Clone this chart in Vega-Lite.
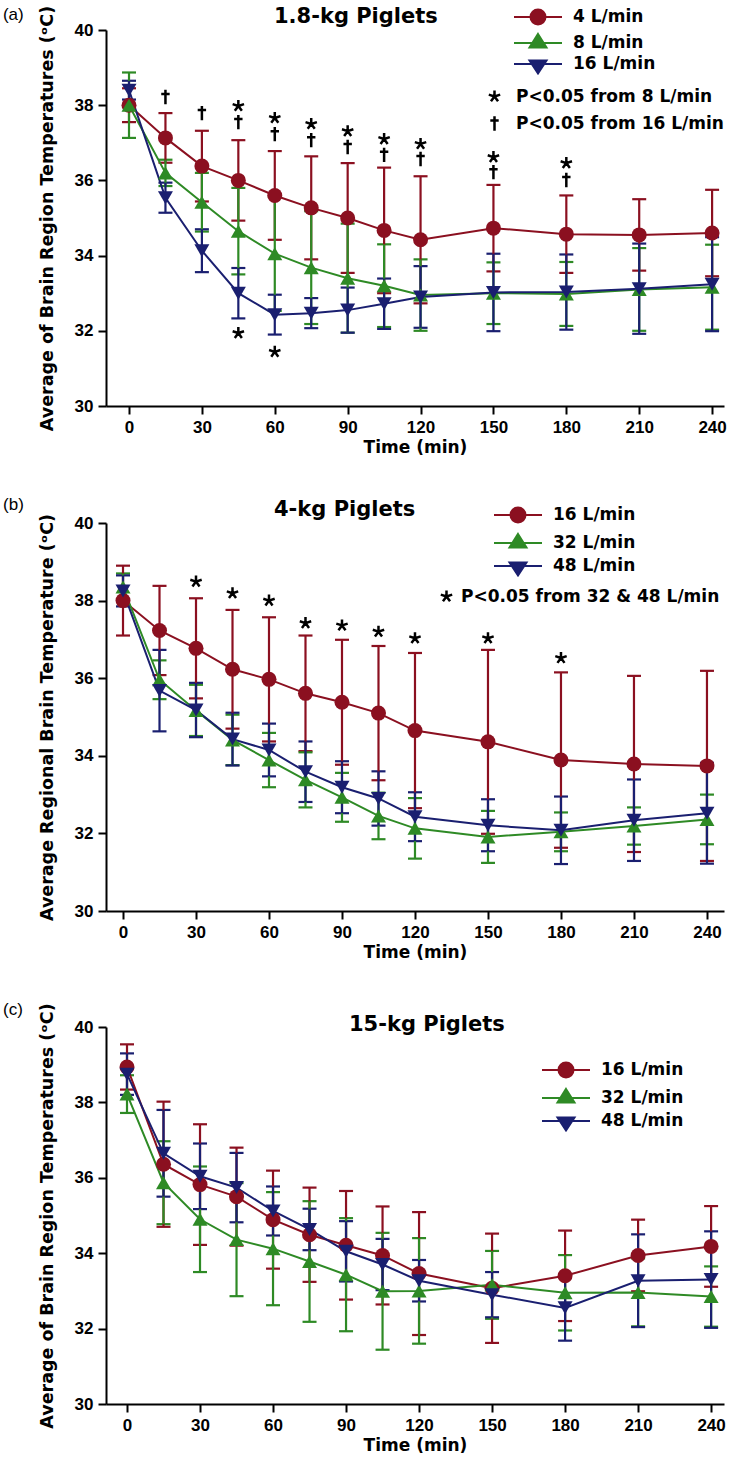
{
 "$schema": "https://vega.github.io/schema/vega-lite/v6.json",
 "padding": {"left": 2, "top": 5, "right": 0, "bottom": 0},
 "background": "white",
 "spacing": 41,
 "config": {
  "view": {"stroke": null},
  "font": "DejaVu Sans",
  "axis": {"domainColor": "black", "domainWidth": 2, "tickColor": "black", "tickWidth": 2, "tickSize": 8, "grid": false, "labelFont": "Liberation Sans", "labelFontWeight": "bold", "labelFontSize": 17, "labelColor": "black", "titleFont": "DejaVu Sans", "titleFontWeight": "bold", "titleFontSize": 17, "titleColor": "black", "labelPadding": 5},
  "axisY": {"titlePadding": 18, "titleFontSize": 17.5},
  "axisX": {"titlePadding": 4},
  "legend": {"padding": 0, "labelFont": "DejaVu Sans", "labelFontWeight": "bold", "labelFontSize": 17, "labelColor": "black", "labelLimit": 400},
  "title": {"font": "DejaVu Sans", "fontSize": 21, "fontWeight": "bold", "color": "black"}
 },
 "resolve": {"scale": {"color": "independent", "shape": "independent", "x": "independent", "y": "independent"}, "legend": {"color": "independent", "shape": "independent"}},
 "datasets": {
  "a": [
   {"t": 0, "s": "4 L/min", "m": 38.0, "sd": 0.45},
   {"t": 15, "s": "4 L/min", "m": 37.13, "sd": 0.66},
   {"t": 30, "s": "4 L/min", "m": 36.38, "sd": 0.94},
   {"t": 45, "s": "4 L/min", "m": 36.0, "sd": 1.07},
   {"t": 60, "s": "4 L/min", "m": 35.6, "sd": 1.18},
   {"t": 75, "s": "4 L/min", "m": 35.27, "sd": 1.37},
   {"t": 90, "s": "4 L/min", "m": 35.0, "sd": 1.46},
   {"t": 105, "s": "4 L/min", "m": 34.67, "sd": 1.67},
   {"t": 120, "s": "4 L/min", "m": 34.42, "sd": 1.69},
   {"t": 150, "s": "4 L/min", "m": 34.73, "sd": 1.15},
   {"t": 180, "s": "4 L/min", "m": 34.57, "sd": 1.03},
   {"t": 210, "s": "4 L/min", "m": 34.55, "sd": 0.95},
   {"t": 240, "s": "4 L/min", "m": 34.6, "sd": 1.15},
   {"t": 0, "s": "8 L/min", "m": 38.0, "sd": 0.87},
   {"t": 15, "s": "8 L/min", "m": 36.2, "sd": 0.35},
   {"t": 30, "s": "8 L/min", "m": 35.42, "sd": 0.78},
   {"t": 45, "s": "8 L/min", "m": 34.65, "sd": 1.15},
   {"t": 60, "s": "8 L/min", "m": 34.05, "sd": 1.52},
   {"t": 75, "s": "8 L/min", "m": 33.68, "sd": 1.5},
   {"t": 90, "s": "8 L/min", "m": 33.4, "sd": 1.45},
   {"t": 105, "s": "8 L/min", "m": 33.2, "sd": 1.1},
   {"t": 120, "s": "8 L/min", "m": 32.95, "sd": 0.95},
   {"t": 150, "s": "8 L/min", "m": 33.0, "sd": 0.82},
   {"t": 180, "s": "8 L/min", "m": 32.98, "sd": 0.85},
   {"t": 210, "s": "8 L/min", "m": 33.1, "sd": 1.1},
   {"t": 240, "s": "8 L/min", "m": 33.16, "sd": 1.13},
   {"t": 0, "s": "16 L/min", "m": 38.4, "sd": 0.25},
   {"t": 15, "s": "16 L/min", "m": 35.54, "sd": 0.4},
   {"t": 30, "s": "16 L/min", "m": 34.13, "sd": 0.57},
   {"t": 45, "s": "16 L/min", "m": 33.0, "sd": 0.67},
   {"t": 60, "s": "16 L/min", "m": 32.43, "sd": 0.53},
   {"t": 75, "s": "16 L/min", "m": 32.47, "sd": 0.4},
   {"t": 90, "s": "16 L/min", "m": 32.55, "sd": 0.6},
   {"t": 105, "s": "16 L/min", "m": 32.72, "sd": 0.67},
   {"t": 120, "s": "16 L/min", "m": 32.9, "sd": 0.82},
   {"t": 150, "s": "16 L/min", "m": 33.02, "sd": 1.03},
   {"t": 180, "s": "16 L/min", "m": 33.03, "sd": 1.0},
   {"t": 210, "s": "16 L/min", "m": 33.12, "sd": 1.2},
   {"t": 240, "s": "16 L/min", "m": 33.24, "sd": 1.25}
  ],
  "aNotes": [
   {"t": 15, "note": "P<0.05 from 16 L/min", "y": 38.22},
   {"t": 30, "note": "P<0.05 from 16 L/min", "y": 37.79},
   {"t": 45, "note": "P<0.05 from 8 L/min", "y": 37.98},
   {"t": 45, "note": "P<0.05 from 16 L/min", "y": 37.55},
   {"t": 60, "note": "P<0.05 from 8 L/min", "y": 37.66},
   {"t": 60, "note": "P<0.05 from 16 L/min", "y": 37.23},
   {"t": 75, "note": "P<0.05 from 8 L/min", "y": 37.5},
   {"t": 75, "note": "P<0.05 from 16 L/min", "y": 37.07},
   {"t": 90, "note": "P<0.05 from 8 L/min", "y": 37.31},
   {"t": 90, "note": "P<0.05 from 16 L/min", "y": 36.89},
   {"t": 105, "note": "P<0.05 from 8 L/min", "y": 37.1},
   {"t": 105, "note": "P<0.05 from 16 L/min", "y": 36.68},
   {"t": 120, "note": "P<0.05 from 8 L/min", "y": 36.97},
   {"t": 120, "note": "P<0.05 from 16 L/min", "y": 36.57},
   {"t": 150, "note": "P<0.05 from 8 L/min", "y": 36.62},
   {"t": 150, "note": "P<0.05 from 16 L/min", "y": 36.22},
   {"t": 180, "note": "P<0.05 from 8 L/min", "y": 36.46},
   {"t": 180, "note": "P<0.05 from 16 L/min", "y": 36.01},
   {"t": 45, "note": "P<0.05 from 8 L/min", "y": 31.94},
   {"t": 60, "note": "P<0.05 from 8 L/min", "y": 31.44}
  ],
  "b": [
   {"t": 0, "s": "16 L/min", "m": 38.0, "sd": 0.9},
   {"t": 15, "s": "16 L/min", "m": 37.23, "sd": 1.15},
   {"t": 30, "s": "16 L/min", "m": 36.77, "sd": 1.29},
   {"t": 45, "s": "16 L/min", "m": 36.23, "sd": 1.53},
   {"t": 60, "s": "16 L/min", "m": 35.97, "sd": 1.6},
   {"t": 75, "s": "16 L/min", "m": 35.61, "sd": 1.49},
   {"t": 90, "s": "16 L/min", "m": 35.38, "sd": 1.61},
   {"t": 105, "s": "16 L/min", "m": 35.1, "sd": 1.73},
   {"t": 120, "s": "16 L/min", "m": 34.65, "sd": 2.0},
   {"t": 150, "s": "16 L/min", "m": 34.36, "sd": 2.37},
   {"t": 180, "s": "16 L/min", "m": 33.89, "sd": 2.26},
   {"t": 210, "s": "16 L/min", "m": 33.79, "sd": 2.27},
   {"t": 240, "s": "16 L/min", "m": 33.74, "sd": 2.45},
   {"t": 0, "s": "32 L/min", "m": 38.35, "sd": 0.35},
   {"t": 15, "s": "32 L/min", "m": 35.96, "sd": 0.5},
   {"t": 30, "s": "32 L/min", "m": 35.17, "sd": 0.66},
   {"t": 45, "s": "32 L/min", "m": 34.41, "sd": 0.65},
   {"t": 60, "s": "32 L/min", "m": 33.89, "sd": 0.7},
   {"t": 75, "s": "32 L/min", "m": 33.38, "sd": 0.71},
   {"t": 90, "s": "32 L/min", "m": 32.93, "sd": 0.63},
   {"t": 105, "s": "32 L/min", "m": 32.45, "sd": 0.6},
   {"t": 120, "s": "32 L/min", "m": 32.13, "sd": 0.78},
   {"t": 150, "s": "32 L/min", "m": 31.91, "sd": 0.67},
   {"t": 180, "s": "32 L/min", "m": 32.04, "sd": 0.5},
   {"t": 210, "s": "32 L/min", "m": 32.19, "sd": 0.48},
   {"t": 240, "s": "32 L/min", "m": 32.36, "sd": 0.64},
   {"t": 0, "s": "48 L/min", "m": 38.25, "sd": 0.4},
   {"t": 15, "s": "48 L/min", "m": 35.68, "sd": 1.05},
   {"t": 30, "s": "48 L/min", "m": 35.18, "sd": 0.7},
   {"t": 45, "s": "48 L/min", "m": 34.43, "sd": 0.68},
   {"t": 60, "s": "48 L/min", "m": 34.15, "sd": 0.68},
   {"t": 75, "s": "48 L/min", "m": 33.59, "sd": 0.78},
   {"t": 90, "s": "48 L/min", "m": 33.19, "sd": 0.67},
   {"t": 105, "s": "48 L/min", "m": 32.9, "sd": 0.7},
   {"t": 120, "s": "48 L/min", "m": 32.43, "sd": 0.63},
   {"t": 150, "s": "48 L/min", "m": 32.21, "sd": 0.67},
   {"t": 180, "s": "48 L/min", "m": 32.08, "sd": 0.87},
   {"t": 210, "s": "48 L/min", "m": 32.34, "sd": 1.05},
   {"t": 240, "s": "48 L/min", "m": 32.52, "sd": 1.3}
  ],
  "bNotes": [
   {"t": 30, "note": "P<0.05 from 32 & 48 L/min", "y": 38.49},
   {"t": 45, "note": "P<0.05 from 32 & 48 L/min", "y": 38.19},
   {"t": 60, "note": "P<0.05 from 32 & 48 L/min", "y": 38.0},
   {"t": 75, "note": "P<0.05 from 32 & 48 L/min", "y": 37.42},
   {"t": 90, "note": "P<0.05 from 32 & 48 L/min", "y": 37.36},
   {"t": 105, "note": "P<0.05 from 32 & 48 L/min", "y": 37.2},
   {"t": 120, "note": "P<0.05 from 32 & 48 L/min", "y": 37.03},
   {"t": 150, "note": "P<0.05 from 32 & 48 L/min", "y": 37.03},
   {"t": 180, "note": "P<0.05 from 32 & 48 L/min", "y": 36.52}
  ],
  "c": [
   {"t": 0, "s": "16 L/min", "m": 38.94, "sd": 0.6},
   {"t": 15, "s": "16 L/min", "m": 36.36, "sd": 1.66},
   {"t": 30, "s": "16 L/min", "m": 35.82, "sd": 1.6},
   {"t": 45, "s": "16 L/min", "m": 35.5, "sd": 1.3},
   {"t": 60, "s": "16 L/min", "m": 34.89, "sd": 1.3},
   {"t": 75, "s": "16 L/min", "m": 34.49, "sd": 1.25},
   {"t": 90, "s": "16 L/min", "m": 34.21, "sd": 1.44},
   {"t": 105, "s": "16 L/min", "m": 33.94, "sd": 1.3},
   {"t": 120, "s": "16 L/min", "m": 33.46, "sd": 1.63},
   {"t": 150, "s": "16 L/min", "m": 33.07, "sd": 1.45},
   {"t": 180, "s": "16 L/min", "m": 33.4, "sd": 1.2},
   {"t": 210, "s": "16 L/min", "m": 33.94, "sd": 0.95},
   {"t": 240, "s": "16 L/min", "m": 34.18, "sd": 1.07},
   {"t": 0, "s": "32 L/min", "m": 38.22, "sd": 0.5},
   {"t": 15, "s": "32 L/min", "m": 35.87, "sd": 1.1},
   {"t": 30, "s": "32 L/min", "m": 34.9, "sd": 1.4},
   {"t": 45, "s": "32 L/min", "m": 34.36, "sd": 1.5},
   {"t": 60, "s": "32 L/min", "m": 34.12, "sd": 1.5},
   {"t": 75, "s": "32 L/min", "m": 33.78, "sd": 1.6},
   {"t": 90, "s": "32 L/min", "m": 33.43, "sd": 1.5},
   {"t": 105, "s": "32 L/min", "m": 32.99, "sd": 1.55},
   {"t": 120, "s": "32 L/min", "m": 33.0, "sd": 1.4},
   {"t": 150, "s": "32 L/min", "m": 33.16, "sd": 0.9},
   {"t": 180, "s": "32 L/min", "m": 32.95, "sd": 1.0},
   {"t": 210, "s": "32 L/min", "m": 32.96, "sd": 0.9},
   {"t": 240, "s": "32 L/min", "m": 32.85, "sd": 0.8},
   {"t": 0, "s": "48 L/min", "m": 38.75, "sd": 0.55},
   {"t": 15, "s": "48 L/min", "m": 36.65, "sd": 1.15},
   {"t": 30, "s": "48 L/min", "m": 36.04, "sd": 0.87},
   {"t": 45, "s": "48 L/min", "m": 35.74, "sd": 0.92},
   {"t": 60, "s": "48 L/min", "m": 35.12, "sd": 0.65},
   {"t": 75, "s": "48 L/min", "m": 34.63, "sd": 0.55},
   {"t": 90, "s": "48 L/min", "m": 34.05, "sd": 0.8},
   {"t": 105, "s": "48 L/min", "m": 33.7, "sd": 0.68},
   {"t": 120, "s": "48 L/min", "m": 33.27, "sd": 0.55},
   {"t": 150, "s": "48 L/min", "m": 32.9, "sd": 0.6},
   {"t": 180, "s": "48 L/min", "m": 32.55, "sd": 0.87},
   {"t": 210, "s": "48 L/min", "m": 33.27, "sd": 1.23},
   {"t": 240, "s": "48 L/min", "m": 33.3, "sd": 1.28}
  ]
 },
 "vconcat": [
  {
   "width": 618, "height": 376,
   "title": {"text": "1.8-kg Piglets", "anchor": "start", "frame": "group", "dx": 168, "offset": -22},
   "resolve": {"scale": {"shape": "independent"}, "legend": {"shape": "independent"}},
   "layer": [
    {
     "data": {"name": "a"},
     "mark": {"type": "errorbar", "thickness": 2, "rule": {"opacity": 1, "strokeWidth": 2.2}, "ticks": {"size": 14, "thickness": 2.2, "opacity": 1}},
     "encoding": {
      "x": {"field": "t", "type": "quantitative", "scale": {"domain": [-9.47, 244.9], "nice": false, "zero": false}, "axis": {"values": [0, 30, 60, 90, 120, 150, 180, 210, 240], "title": "Time (min)"}},
      "y": {"field": "m", "type": "quantitative", "scale": {"domain": [30, 40], "nice": false, "zero": false}, "axis": {"values": [30, 32, 34, 36, 38, 40], "title": "Average of Brain Region Temperatures (ᵒC)"}},
      "yError": {"field": "sd"},
      "color": {"field": "s", "type": "nominal", "scale": {"domain": ["4 L/min", "8 L/min", "16 L/min"], "range": ["#8b1020", "#2e8a25", "#1a1f70"]}, "legend": {"orient": "none", "legendX": 421, "legendY": -24, "title": null, "symbolSize": 400, "symbolStrokeWidth": 2, "symbolOpacity": 1, "labelOffset": 24, "rowPadding": 1, "encode": {"symbols": {"update": {"shape": {"signal": "datum.value === '4 L/min' ? 'M-2.4,0L2.4,0M0.75,0A0.75,0.75,0,1,1,-0.75,0A0.75,0.75,0,1,1,0.75,0Z' : datum.value === '8 L/min' ? 'M-2.4,0L2.4,0M0,-0.9L0.85,0.45L-0.85,0.45Z' : 'M-2.4,0L2.4,0M0,0.95L0.85,-0.35L-0.85,-0.35Z'"}, "fill": {"signal": "{'4 L/min':'#8b1020','8 L/min':'#2e8a25','16 L/min':'#1a1f70'}[datum.value]"}, "stroke": {"signal": "{'4 L/min':'#8b1020','8 L/min':'#2e8a25','16 L/min':'#1a1f70'}[datum.value]"}}}}}}
     }
    },
    {
     "data": {"name": "a"},
     "mark": {"type": "line", "strokeWidth": 2},
     "encoding": {
      "x": {"field": "t", "type": "quantitative", "scale": {"domain": [-9.47, 244.9], "nice": false, "zero": false}},
      "y": {"field": "m", "type": "quantitative", "scale": {"domain": [30, 40], "nice": false, "zero": false}},
      "color": {"field": "s", "type": "nominal", "legend": {"orient": "none", "legendX": 421, "legendY": -24, "title": null, "symbolSize": 400, "symbolStrokeWidth": 2, "symbolOpacity": 1, "labelOffset": 24, "rowPadding": 1, "encode": {"symbols": {"update": {"shape": {"signal": "datum.value === '4 L/min' ? 'M-2.4,0L2.4,0M0.75,0A0.75,0.75,0,1,1,-0.75,0A0.75,0.75,0,1,1,0.75,0Z' : datum.value === '8 L/min' ? 'M-2.4,0L2.4,0M0,-0.9L0.85,0.45L-0.85,0.45Z' : 'M-2.4,0L2.4,0M0,0.95L0.85,-0.35L-0.85,-0.35Z'"}, "fill": {"signal": "{'4 L/min':'#8b1020','8 L/min':'#2e8a25','16 L/min':'#1a1f70'}[datum.value]"}, "stroke": {"signal": "{'4 L/min':'#8b1020','8 L/min':'#2e8a25','16 L/min':'#1a1f70'}[datum.value]"}}}}}}
     }
    },
    {
     "data": {"name": "a"},
     "mark": {"type": "point", "filled": true, "opacity": 1, "size": 225},
     "encoding": {
      "x": {"field": "t", "type": "quantitative", "scale": {"domain": [-9.47, 244.9], "nice": false, "zero": false}},
      "y": {"field": "m", "type": "quantitative", "scale": {"domain": [30, 40], "nice": false, "zero": false}},
      "color": {"field": "s", "type": "nominal", "legend": {"orient": "none", "legendX": 421, "legendY": -24, "title": null, "symbolSize": 400, "symbolStrokeWidth": 2, "symbolOpacity": 1, "labelOffset": 24, "rowPadding": 1, "encode": {"symbols": {"update": {"shape": {"signal": "datum.value === '4 L/min' ? 'M-2.4,0L2.4,0M0.75,0A0.75,0.75,0,1,1,-0.75,0A0.75,0.75,0,1,1,0.75,0Z' : datum.value === '8 L/min' ? 'M-2.4,0L2.4,0M0,-0.9L0.85,0.45L-0.85,0.45Z' : 'M-2.4,0L2.4,0M0,0.95L0.85,-0.35L-0.85,-0.35Z'"}, "fill": {"signal": "{'4 L/min':'#8b1020','8 L/min':'#2e8a25','16 L/min':'#1a1f70'}[datum.value]"}, "stroke": {"signal": "{'4 L/min':'#8b1020','8 L/min':'#2e8a25','16 L/min':'#1a1f70'}[datum.value]"}}}}}},
      "shape": {"field": "s", "type": "nominal", "scale": {"domain": ["4 L/min", "8 L/min", "16 L/min"], "range": ["circle", "triangle-up", "triangle-down"]}, "legend": null}
     }
    },
    {
     "data": {"name": "aNotes"},
     "mark": {"type": "point", "filled": false, "strokeWidth": 2.5, "color": "black", "opacity": 1, "size": 144},
     "encoding": {
      "x": {"field": "t", "type": "quantitative", "scale": {"domain": [-9.47, 244.9], "nice": false, "zero": false}},
      "y": {"field": "y", "type": "quantitative", "scale": {"domain": [30, 40], "nice": false, "zero": false}},
      "shape": {"field": "note", "type": "nominal", "scale": {"domain": ["P<0.05 from 8 L/min", "P<0.05 from 16 L/min"], "range": ["M0,0L0,-1M0,0L0.95,-0.31M0,0L0.59,0.81M0,0L-0.59,0.81M0,0L-0.95,-0.31", "M0,-1.2L0,1.2M-0.7,-0.5L0.7,-0.5"]}, "legend": {"orient": "none", "legendX": 380, "legendY": 58, "title": null, "symbolSize": 144, "symbolStrokeWidth": 2.5, "symbolStrokeColor": "black", "symbolFillColor": "transparent", "labelOffset": 13, "rowPadding": 4}}
     }
    },
    {
     "data": {"values": [{}]},
     "mark": {"type": "text", "text": "(a)", "align": "left", "baseline": "middle", "font": "Liberation Sans", "fontSize": 17, "color": "black"},
     "encoding": {
      "x": {"datum": -51.9, "type": "quantitative", "scale": {"domain": [-9.47, 244.9], "nice": false, "zero": false}},
      "y": {"datum": 40.4, "type": "quantitative", "scale": {"domain": [30, 40], "nice": false, "zero": false}}
     }
    }
   ]
  },
  {
   "width": 618, "height": 388,
   "title": {"text": "4-kg Piglets", "anchor": "start", "frame": "group", "dx": 168, "offset": -24},
   "resolve": {"scale": {"shape": "independent"}, "legend": {"shape": "independent"}},
   "layer": [
    {
     "data": {"name": "b"},
     "mark": {"type": "errorbar", "thickness": 2, "rule": {"opacity": 1, "strokeWidth": 2.2}, "ticks": {"size": 14, "thickness": 2.2, "opacity": 1}},
     "encoding": {
      "x": {"field": "t", "type": "quantitative", "scale": {"domain": [-6.99, 247], "nice": false, "zero": false}, "axis": {"values": [0, 30, 60, 90, 120, 150, 180, 210, 240], "title": "Time (min)"}},
      "y": {"field": "m", "type": "quantitative", "scale": {"domain": [30, 40], "nice": false, "zero": false}, "axis": {"values": [30, 32, 34, 36, 38, 40], "title": "Average Regional Brain Temperature (ᵒC)"}},
      "yError": {"field": "sd"},
      "color": {"field": "s", "type": "nominal", "scale": {"domain": ["16 L/min", "32 L/min", "48 L/min"], "range": ["#8b1020", "#2e8a25", "#1a1f70"]}, "legend": {"orient": "none", "legendX": 401, "legendY": -19, "title": null, "symbolSize": 400, "symbolStrokeWidth": 2, "symbolOpacity": 1, "labelOffset": 24, "rowPadding": 3, "encode": {"symbols": {"update": {"shape": {"signal": "datum.value === '16 L/min' ? 'M-2.4,0L2.4,0M0.75,0A0.75,0.75,0,1,1,-0.75,0A0.75,0.75,0,1,1,0.75,0Z' : datum.value === '32 L/min' ? 'M-2.4,0L2.4,0M0,-0.9L0.85,0.45L-0.85,0.45Z' : 'M-2.4,0L2.4,0M0,0.95L0.85,-0.35L-0.85,-0.35Z'"}, "fill": {"signal": "{'16 L/min':'#8b1020','32 L/min':'#2e8a25','48 L/min':'#1a1f70'}[datum.value]"}, "stroke": {"signal": "{'16 L/min':'#8b1020','32 L/min':'#2e8a25','48 L/min':'#1a1f70'}[datum.value]"}}}}}}
     }
    },
    {
     "data": {"name": "b"},
     "mark": {"type": "line", "strokeWidth": 2},
     "encoding": {
      "x": {"field": "t", "type": "quantitative", "scale": {"domain": [-6.99, 247], "nice": false, "zero": false}},
      "y": {"field": "m", "type": "quantitative", "scale": {"domain": [30, 40], "nice": false, "zero": false}},
      "color": {"field": "s", "type": "nominal", "legend": {"orient": "none", "legendX": 401, "legendY": -19, "title": null, "symbolSize": 400, "symbolStrokeWidth": 2, "symbolOpacity": 1, "labelOffset": 24, "rowPadding": 3, "encode": {"symbols": {"update": {"shape": {"signal": "datum.value === '16 L/min' ? 'M-2.4,0L2.4,0M0.75,0A0.75,0.75,0,1,1,-0.75,0A0.75,0.75,0,1,1,0.75,0Z' : datum.value === '32 L/min' ? 'M-2.4,0L2.4,0M0,-0.9L0.85,0.45L-0.85,0.45Z' : 'M-2.4,0L2.4,0M0,0.95L0.85,-0.35L-0.85,-0.35Z'"}, "fill": {"signal": "{'16 L/min':'#8b1020','32 L/min':'#2e8a25','48 L/min':'#1a1f70'}[datum.value]"}, "stroke": {"signal": "{'16 L/min':'#8b1020','32 L/min':'#2e8a25','48 L/min':'#1a1f70'}[datum.value]"}}}}}}
     }
    },
    {
     "data": {"name": "b"},
     "mark": {"type": "point", "filled": true, "opacity": 1, "size": 225},
     "encoding": {
      "x": {"field": "t", "type": "quantitative", "scale": {"domain": [-6.99, 247], "nice": false, "zero": false}},
      "y": {"field": "m", "type": "quantitative", "scale": {"domain": [30, 40], "nice": false, "zero": false}},
      "color": {"field": "s", "type": "nominal", "legend": {"orient": "none", "legendX": 401, "legendY": -19, "title": null, "symbolSize": 400, "symbolStrokeWidth": 2, "symbolOpacity": 1, "labelOffset": 24, "rowPadding": 3, "encode": {"symbols": {"update": {"shape": {"signal": "datum.value === '16 L/min' ? 'M-2.4,0L2.4,0M0.75,0A0.75,0.75,0,1,1,-0.75,0A0.75,0.75,0,1,1,0.75,0Z' : datum.value === '32 L/min' ? 'M-2.4,0L2.4,0M0,-0.9L0.85,0.45L-0.85,0.45Z' : 'M-2.4,0L2.4,0M0,0.95L0.85,-0.35L-0.85,-0.35Z'"}, "fill": {"signal": "{'16 L/min':'#8b1020','32 L/min':'#2e8a25','48 L/min':'#1a1f70'}[datum.value]"}, "stroke": {"signal": "{'16 L/min':'#8b1020','32 L/min':'#2e8a25','48 L/min':'#1a1f70'}[datum.value]"}}}}}},
      "shape": {"field": "s", "type": "nominal", "scale": {"domain": ["16 L/min", "32 L/min", "48 L/min"], "range": ["circle", "triangle-up", "triangle-down"]}, "legend": null}
     }
    },
    {
     "data": {"name": "bNotes"},
     "mark": {"type": "point", "filled": false, "strokeWidth": 2.5, "color": "black", "opacity": 1, "size": 144},
     "encoding": {
      "x": {"field": "t", "type": "quantitative", "scale": {"domain": [-6.99, 247], "nice": false, "zero": false}},
      "y": {"field": "y", "type": "quantitative", "scale": {"domain": [30, 40], "nice": false, "zero": false}},
      "shape": {"field": "note", "type": "nominal", "scale": {"domain": ["P<0.05 from 32 & 48 L/min"], "range": ["M0,0L0,-1M0,0L0.95,-0.31M0,0L0.59,0.81M0,0L-0.59,0.81M0,0L-0.95,-0.31"]}, "legend": {"orient": "none", "legendX": 332, "legendY": 65, "title": null, "symbolSize": 144, "symbolStrokeWidth": 2.5, "symbolStrokeColor": "black", "symbolFillColor": "transparent", "labelOffset": 6}}
     }
    },
    {
     "data": {"values": [{}]},
     "mark": {"type": "text", "text": "(b)", "align": "left", "baseline": "middle", "font": "Liberation Sans", "fontSize": 17, "color": "black"},
     "encoding": {
      "x": {"datum": -49.3, "type": "quantitative", "scale": {"domain": [-6.99, 247], "nice": false, "zero": false}},
      "y": {"datum": 40.46, "type": "quantitative", "scale": {"domain": [30, 40], "nice": false, "zero": false}}
     }
    }
   ]
  },
  {
   "width": 618, "height": 377,
   "title": {"text": "15-kg Piglets", "anchor": "start", "frame": "group", "dx": 243, "offset": -34},
   "resolve": {"scale": {"shape": "independent"}, "legend": {"shape": "independent"}},
   "layer": [
    {
     "data": {"name": "c"},
     "mark": {"type": "errorbar", "thickness": 2, "rule": {"opacity": 1, "strokeWidth": 2.2}, "ticks": {"size": 14, "thickness": 2.2, "opacity": 1}},
     "encoding": {
      "x": {"field": "t", "type": "quantitative", "scale": {"domain": [-8.63, 245.3], "nice": false, "zero": false}, "axis": {"values": [0, 30, 60, 90, 120, 150, 180, 210, 240], "title": "Time (min)"}},
      "y": {"field": "m", "type": "quantitative", "scale": {"domain": [30, 40], "nice": false, "zero": false}, "axis": {"values": [30, 32, 34, 36, 38, 40], "title": "Average of Brain Region Temperatures (ᵒC)"}},
      "yError": {"field": "sd"},
      "color": {"field": "s", "type": "nominal", "scale": {"domain": ["16 L/min", "32 L/min", "48 L/min"], "range": ["#8b1020", "#2e8a25", "#1a1f70"]}, "legend": {"orient": "none", "legendX": 449, "legendY": 32, "title": null, "symbolSize": 400, "symbolStrokeWidth": 2, "symbolOpacity": 1, "labelOffset": 24, "rowPadding": 3, "encode": {"symbols": {"update": {"shape": {"signal": "datum.value === '16 L/min' ? 'M-2.4,0L2.4,0M0.75,0A0.75,0.75,0,1,1,-0.75,0A0.75,0.75,0,1,1,0.75,0Z' : datum.value === '32 L/min' ? 'M-2.4,0L2.4,0M0,-0.9L0.85,0.45L-0.85,0.45Z' : 'M-2.4,0L2.4,0M0,0.95L0.85,-0.35L-0.85,-0.35Z'"}, "fill": {"signal": "{'16 L/min':'#8b1020','32 L/min':'#2e8a25','48 L/min':'#1a1f70'}[datum.value]"}, "stroke": {"signal": "{'16 L/min':'#8b1020','32 L/min':'#2e8a25','48 L/min':'#1a1f70'}[datum.value]"}}}}}}
     }
    },
    {
     "data": {"name": "c"},
     "mark": {"type": "line", "strokeWidth": 2},
     "encoding": {
      "x": {"field": "t", "type": "quantitative", "scale": {"domain": [-8.63, 245.3], "nice": false, "zero": false}},
      "y": {"field": "m", "type": "quantitative", "scale": {"domain": [30, 40], "nice": false, "zero": false}},
      "color": {"field": "s", "type": "nominal", "legend": {"orient": "none", "legendX": 449, "legendY": 32, "title": null, "symbolSize": 400, "symbolStrokeWidth": 2, "symbolOpacity": 1, "labelOffset": 24, "rowPadding": 3, "encode": {"symbols": {"update": {"shape": {"signal": "datum.value === '16 L/min' ? 'M-2.4,0L2.4,0M0.75,0A0.75,0.75,0,1,1,-0.75,0A0.75,0.75,0,1,1,0.75,0Z' : datum.value === '32 L/min' ? 'M-2.4,0L2.4,0M0,-0.9L0.85,0.45L-0.85,0.45Z' : 'M-2.4,0L2.4,0M0,0.95L0.85,-0.35L-0.85,-0.35Z'"}, "fill": {"signal": "{'16 L/min':'#8b1020','32 L/min':'#2e8a25','48 L/min':'#1a1f70'}[datum.value]"}, "stroke": {"signal": "{'16 L/min':'#8b1020','32 L/min':'#2e8a25','48 L/min':'#1a1f70'}[datum.value]"}}}}}}
     }
    },
    {
     "data": {"name": "c"},
     "mark": {"type": "point", "filled": true, "opacity": 1, "size": 225},
     "encoding": {
      "x": {"field": "t", "type": "quantitative", "scale": {"domain": [-8.63, 245.3], "nice": false, "zero": false}},
      "y": {"field": "m", "type": "quantitative", "scale": {"domain": [30, 40], "nice": false, "zero": false}},
      "color": {"field": "s", "type": "nominal", "legend": {"orient": "none", "legendX": 449, "legendY": 32, "title": null, "symbolSize": 400, "symbolStrokeWidth": 2, "symbolOpacity": 1, "labelOffset": 24, "rowPadding": 3, "encode": {"symbols": {"update": {"shape": {"signal": "datum.value === '16 L/min' ? 'M-2.4,0L2.4,0M0.75,0A0.75,0.75,0,1,1,-0.75,0A0.75,0.75,0,1,1,0.75,0Z' : datum.value === '32 L/min' ? 'M-2.4,0L2.4,0M0,-0.9L0.85,0.45L-0.85,0.45Z' : 'M-2.4,0L2.4,0M0,0.95L0.85,-0.35L-0.85,-0.35Z'"}, "fill": {"signal": "{'16 L/min':'#8b1020','32 L/min':'#2e8a25','48 L/min':'#1a1f70'}[datum.value]"}, "stroke": {"signal": "{'16 L/min':'#8b1020','32 L/min':'#2e8a25','48 L/min':'#1a1f70'}[datum.value]"}}}}}},
      "shape": {"field": "s", "type": "nominal", "scale": {"domain": ["16 L/min", "32 L/min", "48 L/min"], "range": ["circle", "triangle-up", "triangle-down"]}, "legend": null}
     }
    },
    {
     "data": {"values": [{}]},
     "mark": {"type": "text", "text": "(c)", "align": "left", "baseline": "middle", "font": "Liberation Sans", "fontSize": 17, "color": "black"},
     "encoding": {
      "x": {"datum": -50.96, "type": "quantitative", "scale": {"domain": [-8.63, 245.3], "nice": false, "zero": false}},
      "y": {"datum": 40.45, "type": "quantitative", "scale": {"domain": [30, 40], "nice": false, "zero": false}}
     }
    }
   ]
  }
 ]
}
